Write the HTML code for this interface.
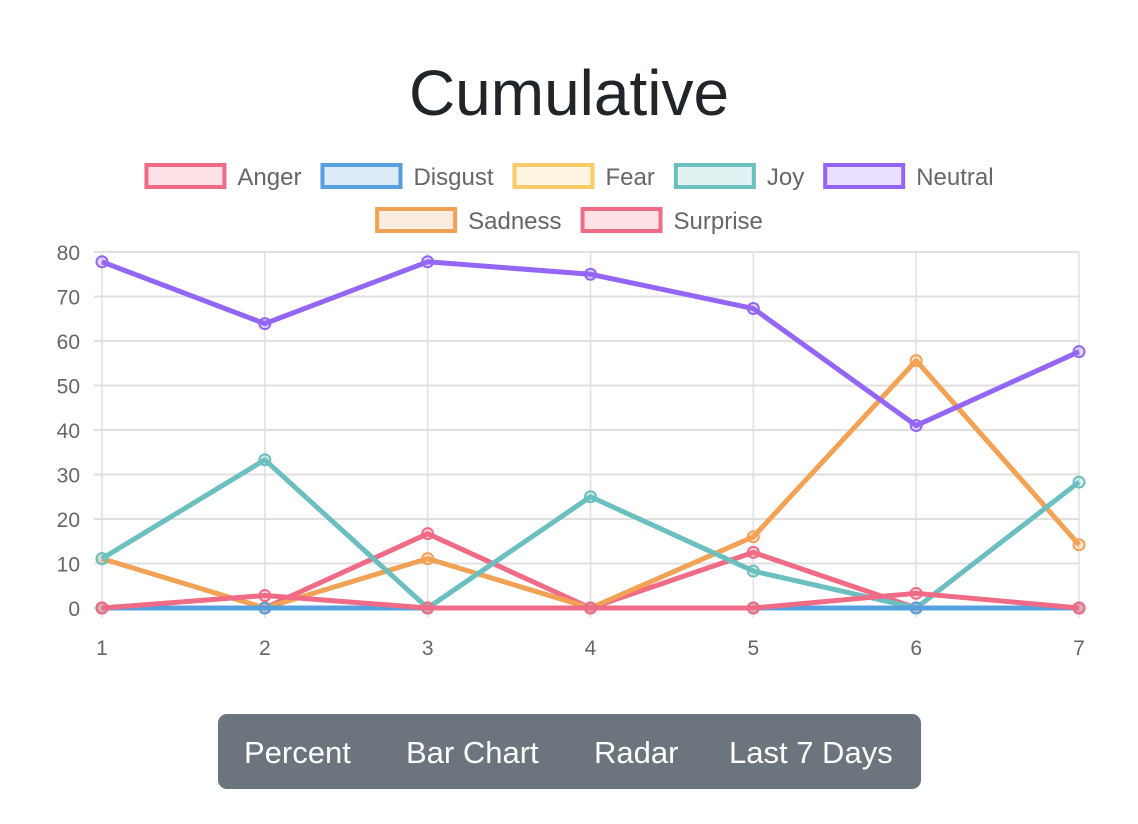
<!DOCTYPE html>
<html><head><meta charset="utf-8"><style>
body{margin:0;background:#fff;font-family:"Liberation Sans",sans-serif;}
#wrap{position:relative;width:1138px;height:824px;overflow:hidden}
#btns{position:absolute;left:218px;top:714px;width:703px;height:75px;background:#6c757d;border-radius:9px;color:#fff;font-size:31px}
#btns span{position:absolute;top:21px;white-space:nowrap;line-height:36px}
</style></head><body><div id="wrap">
<svg id="chart" width="1138" height="700"></svg>
<div id="btns">
<span style="left:26px">Percent</span>
<span style="left:188px">Bar Chart</span>
<span style="left:376px">Radar</span>
<span style="left:511px">Last 7 Days</span>
</div></div>
<script>
const categories=["1","2","3","4","5","6","7"];
const yTicks=[0,10,20,30,40,50,60,70,80];
const seriesNames=["Anger","Disgust","Fear","Joy","Neutral","Sadness","Surprise"];
const seriesColors=["#f06b85","#56a0e0","#f8cb6b","#6cbfbf","#9466f6","#f2a254","#f06b85"];
const anger=[0,2.8,0,0,0,3.3,0];
const disgust=[0,0,0,0,0,0,0];
const fear=[0,0,0,0,0,0,0];
const joy=[11.1,33.3,0,25,8.3,0,28.3];
const neutral=[77.8,63.9,77.8,75,67.3,41,57.6];
const sadness=[11.1,0,11.1,0,16,55.6,14.2];
const surprise=[0,0,16.7,0,12.5,0,0];
const seriesData=[anger,disgust,fear,joy,neutral,sadness,surprise];
const NS="http://www.w3.org/2000/svg";
const svg=document.getElementById('chart');
const x0=102,x1=1079,y0=608,y1=252;
const xs=i=>x0+(x1-x0)*i/(categories.length-1);
const ys=v=>y0-(y0-y1)*v/80;
function mk(t,a,p){const e=document.createElementNS(NS,t);for(const k in a)e.setAttribute(k,a[k]);(p||svg).appendChild(e);return e;}
const title=mk('text',{x:569,y:115,'text-anchor':'middle','font-size':64,fill:'#212529'});
title.textContent='Cumulative';


const rows=[[0,1,2,3,4],[5,6]];
const ctx=document.createElement('canvas').getContext('2d');ctx.font='24px "Liberation Sans"';
rows.forEach((r,ri)=>{
 const ws=r.map(i=>82+11+ctx.measureText(seriesNames[i]).width);
 const tot=ws.reduce((a,b)=>a+b,0)+(r.length-1)*19;
 let x=569-tot/2;const y=ri?207:163;
 r.forEach((i,k)=>{
  const g=mk('g',{});
  
  
  mk('rect',{x:x+2,y:y+2,width:78,height:22,fill:seriesColors[i],'fill-opacity':0.2,stroke:seriesColors[i],'stroke-width':4},g);
  const t=mk('text',{x:x+93,y:y+22,'font-size':24,fill:'#666'},g);t.textContent=seriesNames[i];
  x+=ws[k]+19;
 });
});
yTicks.forEach(v=>{
 const l=mk('line',{x1:x0-8,x2:x1,y1:ys(v),y2:ys(v),stroke:'#e0e0e0','stroke-width':2});
 
 
 const t=mk('text',{x:80,y:ys(v)+8,'text-anchor':'end','font-size':21,fill:'#666'});t.textContent=v;
 
 
});
categories.forEach((c,i)=>{
 const l=mk('line',{x1:xs(i),x2:xs(i),y1:y1,y2:y0+10,stroke:'#e0e0e0','stroke-width':1.5});
 
 
 const t=mk('text',{x:xs(i),y:655,'text-anchor':'middle','font-size':21,fill:'#666'});t.textContent=c;
 
 
});
for(let s=seriesData.length-1;s>=0;s--){
 const d=seriesData[s];
 const g=mk('g',{});
 
 
 mk('polyline',{points:d.map((v,i)=>xs(i)+','+ys(v)).join(' '),fill:'none',stroke:seriesColors[s],'stroke-width':5,'stroke-linejoin':'round'},g);
 d.forEach((v,i)=>{
  const c=mk('circle',{cx:xs(i),cy:ys(v),r:5.5,fill:seriesColors[s],'fill-opacity':0.25,stroke:seriesColors[s],'stroke-width':2},g);
  
  
 });
}
</script></body></html>
